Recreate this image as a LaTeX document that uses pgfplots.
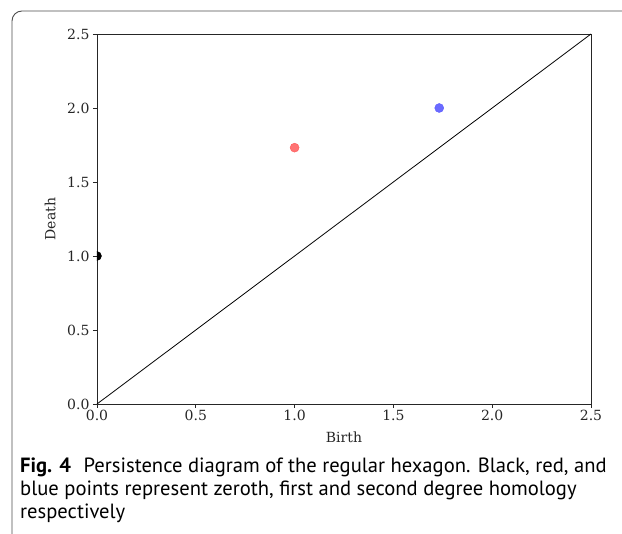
\documentclass[border=0pt]{standalone}
\usepackage{pgfplots}
\pgfplotsset{compat=1.18}
\usepackage{fontspec}
\setmainfont{DejaVu Serif}
\newfontfamily\capfont{PT Sans}
\begin{document}
\begin{tikzpicture}[x=1pt,y=1pt]
\useasboundingbox (0,0) rectangle (622,534);
\draw[black!70, line width=0.9pt, rounded corners=10pt] (12,-1) -- (12,523) -- (623,523);
\begin{axis}[
  at={(97pt,130pt)}, anchor=south west,
  scale only axis, width=494pt, height=370pt,
  xmin=0, xmax=2.5, ymin=0, ymax=2.5,
  xtick={0,0.5,1,1.5,2,2.5}, ytick={0,0.5,1,1.5,2,2.5},
  tick pos=left, tick align=outside, major tick length=4pt,
  axis line style={black!85, line width=0.8pt},
  tick style={black!85, line width=0.8pt},
  /pgf/number format/assume math mode=true,
  /pgf/number format/.cd, fixed, fixed zerofill, precision=1, /pgfplots/.cd,
  tick label style={font=\fontsize{14}{15}\selectfont, black!85},
  label style={font=\fontsize{14}{15}\selectfont, black!85},
  xticklabel style={yshift=1pt},
  xlabel={Birth}, ylabel={Death},
  xlabel style={at={(axis description cs:0.5,-0.089)}, anchor=center},
  ylabel style={at={(axis description cs:-0.095,0.5)}, anchor=center},
  clip marker paths=true,
]
\addplot[black, line width=0.8pt] coordinates {(0,0) (2.5,2.5)};
\addplot[only marks, mark=*, mark size=4.5pt, mark options={fill=black, draw=black}] coordinates {(0,1) (0,2.53)};
\addplot[only marks, mark=*, mark size=4.5pt, mark options={fill=red!55, draw=red!65}] coordinates {(1.0,1.732)};
\addplot[only marks, mark=*, mark size=4.5pt, mark options={fill=blue!58, draw=blue!65}] coordinates {(1.732,2.0)};
\end{axis}
\node[anchor=north west, align=left, inner sep=0pt, font=\capfont\fontsize{20.6}{23}\selectfont] at (20,76)
{\textbf{Fig. 4}\hspace{0.35em} Persistence diagram of the regular hexagon. Black, red, and\\
blue points represent zeroth, first and second degree homology\\
respectively};
\end{tikzpicture}
\end{document}
